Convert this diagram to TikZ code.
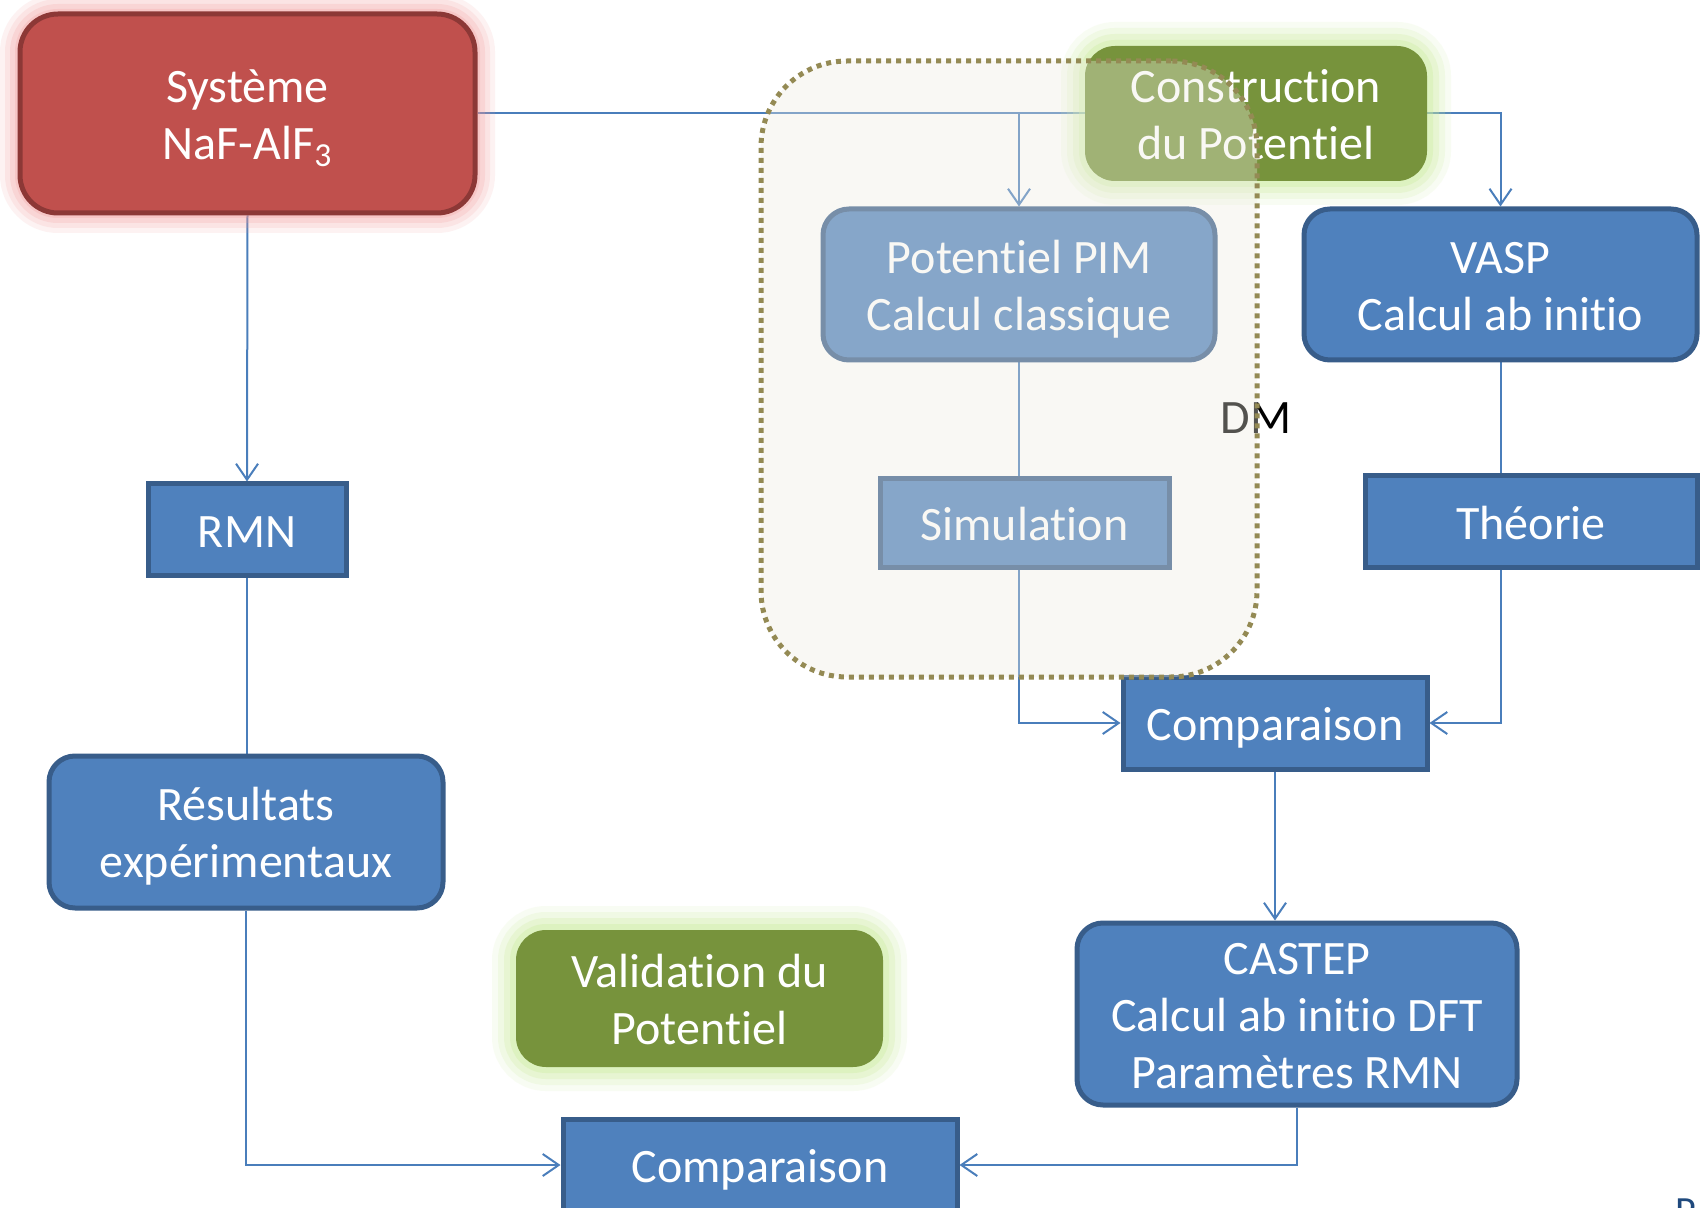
\documentclass[tikz,border=0pt]{standalone}
\usepackage{fontspec}
\setmainfont{Carlito}[Ligatures=NoCommon]
\usetikzlibrary{arrows.meta}
\definecolor{bfill}{HTML}{4F81BD}
\definecolor{bline}{HTML}{385D8A}
\definecolor{conn}{HTML}{4A7EBB}
\definecolor{rfill}{HTML}{C0504D}
\definecolor{rline}{HTML}{8C3836}
\definecolor{rglow}{HTML}{F29A9A}
\definecolor{gfill}{HTML}{77933C}
\definecolor{gglow}{HTML}{CDEDA0}
\definecolor{dmfill}{HTML}{EEECE1}
\definecolor{dmline}{HTML}{948A54}
\definecolor{pcol}{HTML}{1F497D}
\newcommand\ls{\rule[-5.2pt]{0pt}{27.5pt}}
\pgfdeclarelayer{background}
\pgfdeclarelayer{foreground}
\pgfsetlayers{background,main,foreground}
\tikzset{
  sz/.style 2 args={minimum width=#1*0.5pt, minimum height=#2*0.5pt},
  txt/.style={font=\fontsize{24}{28.5}\selectfont, text=white, align=center, inner sep=0pt},
  bluebox/.style={txt, draw=bline, fill=bfill, line width=2.5pt},
  blueround/.style={bluebox, rounded corners=13pt},
  redbox/.style={txt, draw=rline, fill=rfill, line width=2.5pt, rounded corners=19pt,
    preaction={draw=rglow, line width=20pt, opacity=0.12},
    preaction={draw=rglow, line width=15pt, opacity=0.15},
    preaction={draw=rglow, line width=10pt, opacity=0.2},
    preaction={draw=rglow, line width=5pt, opacity=0.25}},
  greenbox/.style={txt, fill=gfill, rounded corners=15pt,
    preaction={draw=gglow, line width=24pt, opacity=0.12},
    preaction={draw=gglow, line width=18pt, opacity=0.18},
    preaction={draw=gglow, line width=12pt, opacity=0.25},
    preaction={draw=gglow, line width=6pt, opacity=0.35}},
  dmbox/.style={draw=dmline, line width=2.5pt, dash pattern=on 2.5pt off 2.5pt,
    fill=dmfill, fill opacity=0.35, rounded corners=43pt},
  cline/.style={draw=conn, line width=1pt},
  arr/.style={cline, -{Straight Barb[length=8pt, width=11pt]}},
}
\begin{document}
\begin{tikzpicture}[x=0.5pt, y=-0.5pt]
\useasboundingbox (0,0) rectangle (1704,1208);

% nodes
\node[redbox, sz={455}{199}] (sys) at (247.5,113.5) {\ls Système\\\ls NaF-AlF\textsubscript{3}};
\node[greenbox, sz={342}{135}] (cons) at (1256,113.5) {\ls Construction\\\ls du Potentiel};
\node[blueround, sz={392}{151}] (pim) at (1019,284.5) {\ls Potentiel PIM\\\ls Calcul classique};
\node[bluebox, sz={289}{89}] (sim) at (1024.5,523.5) {\ls Simulation};
\node[blueround, sz={393}{151}] (vasp) at (1500.5,284.5) {\ls VASP\\\ls Calcul ab initio};
\node[bluebox, sz={332}{92}] (theo) at (1531,522) {\ls Théorie};
\node[bluebox, sz={304}{92}] (comp1) at (1275,723) {\ls Comparaison};
\node[blueround, sz={440}{182}] (castep) at (1297,1014) {\ls CASTEP\\\ls Calcul ab initio DFT\\\ls Paramètres RMN};
\node[bluebox, sz={394}{92}] (comp2) at (760,1165) {\ls Comparaison};
\node[greenbox, sz={367}{137}] (valid) at (699.5,998.5) {\ls Validation du\\\ls Potentiel};
\node[bluebox, sz={198}{92}] (rmn) at (247,530) {\ls RMN};
\node[blueround, sz={394}{152}] (res) at (246,832) {\ls Résultats\\\ls expérimentaux};
\node[font=\fontsize{24}{28}\selectfont, inner sep=0pt] (dmlabel) at (1256,418) {DM};
\node[font=\fontsize{20}{24}\selectfont, text=pcol, inner sep=0pt, anchor=base west] (pg) at (1675,1224) {P};

% connectors
\begin{pgfonlayer}{background}
\fill[white] (0,0) rectangle (1704,1208);
\draw[arr] (sys.east) -- (sys.east -| vasp.north) -- (vasp.north);
\draw[arr] (sys.east -| pim.north) -- (pim.north);
\draw[arr] (sys.south) -- (rmn.north);
\draw[cline] (rmn.south) -- (rmn.south |- res.north);
\draw[arr] (res.south) |- (comp2.west);
\draw[cline] (pim.south) -- (pim.south |- sim.north);
\draw[arr] (pim.south |- sim.south) |- (comp1.west);
\draw[cline] (vasp.south) -- (vasp.south |- theo.north);
\draw[arr] (vasp.south |- theo.south) |- (comp1.east);
\draw[arr] (comp1.south) -- (comp1.south |- castep.north);
\draw[arr] (castep.south) |- (comp2.east);
\end{pgfonlayer}

% DM overlay
\begin{pgfonlayer}{foreground}
\node[dmbox, sz={496}{616}] (dm) at (1009,369) {};
\end{pgfonlayer}
\end{tikzpicture}
\end{document}
